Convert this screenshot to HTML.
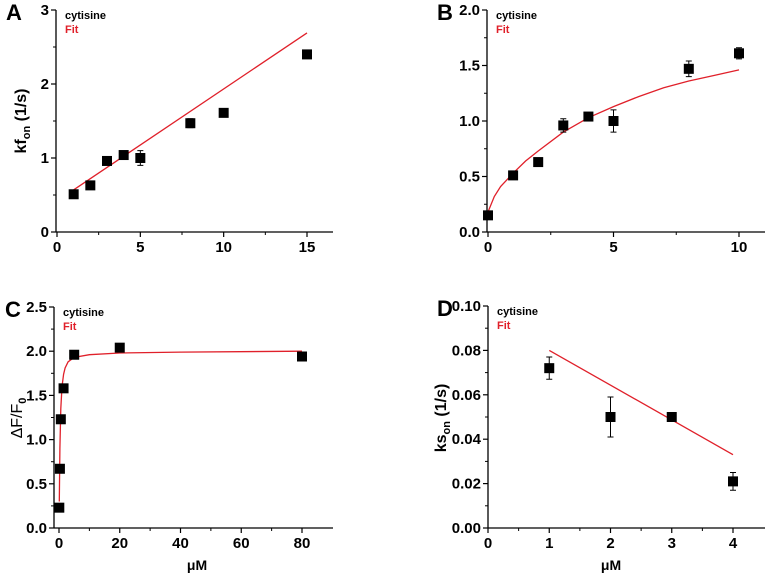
<!DOCTYPE html>
<html><head><meta charset="utf-8"><style>
body{margin:0;background:#fff;}
svg{display:block;font-family:"Liberation Sans",Arial,sans-serif;}
.t{font-weight:bold;font-size:15px;}
</style></head><body>
<svg id="fig" width="765" height="577">
<text x="0" y="0" transform="translate(26,121) rotate(-90)" text-anchor="middle" font-weight="bold" font-size="16">kf<tspan font-size="11" dy="4">on</tspan><tspan dy="-4"> (1/s)</tspan></text>
<text x="0" y="0" transform="translate(22,418) rotate(-90)" text-anchor="middle" font-size="16">ΔF/F<tspan font-size="11" dy="4" font-weight="bold">0</tspan></text>
<text x="0" y="0" transform="translate(446,418) rotate(-90)" text-anchor="middle" font-weight="bold" font-size="16">ks<tspan font-size="11" dy="4">on</tspan><tspan dy="-4"> (1/s)</tspan></text>
<text x="197" y="570" text-anchor="middle" font-weight="bold" font-size="14">μM</text>
<text x="611" y="570" text-anchor="middle" font-weight="bold" font-size="14">μM</text>
</svg>
<script>
// Panel A data
const aX=[1,2,3,4,5,8,10,15];
const aY=[0.51,0.63,0.96,1.04,1.0,1.47,1.61,2.40];
const aErr=[0.02,0.02,0.04,0.03,0.1,0.06,0.03,0.03];
const aFitX=[1,15];
const aFitY=[0.57,2.69];
// Panel B data
const bX=[0,1,2,3,4,5,8,10];
const bY=[0.15,0.51,0.63,0.96,1.04,1.0,1.47,1.61];
const bErr=[0.02,0.02,0.02,0.06,0.03,0.1,0.07,0.05];
const bFitX=[0,0.25,0.5,1,1.5,2,3,4,5,6,7,8,9,10];
const bFitY=[0.18,0.32,0.41,0.53,0.64,0.73,0.90,1.03,1.13,1.22,1.30,1.36,1.41,1.46];
// Panel C data
const cX=[0.1,0.3,0.6,1.5,5,20,80];
const cY=[0.23,0.67,1.23,1.58,1.96,2.04,1.94];
const cErr=[0,0,0,0,0,0,0];
const cFitX=[0.1,0.3,0.6,1,1.5,2,3,5,10,20,40,80];
const cFitY=[0.3,0.9,1.35,1.6,1.74,1.81,1.88,1.93,1.96,1.98,1.99,2.0];
// Panel D data
const dX=[1,2,3,4];
const dY=[0.072,0.050,0.050,0.021];
const dErr=[0.005,0.009,0.001,0.004];
const dFitX=[1,4];
const dFitY=[0.080,0.033];
// Tick labels
const aXTicks=[0,5,10,15], aYTicks=[0,1,2,3];
const bXTicks=[0,5,10], bYTicks=["0.0","0.5","1.0","1.5","2.0"];
const cXTicks=[0,20,40,60,80], cYTicks=["0.0","0.5","1.0","1.5","2.0","2.5"];
const dXTicks=[0,1,2,3,4], dYTicks=["0.00","0.02","0.04","0.06","0.08","0.10"];

const NS="http://www.w3.org/2000/svg";
const svg=document.getElementById('fig');
function mk(tag,attrs,parent,txt){const e=document.createElementNS(NS,tag);for(const k in attrs)e.setAttribute(k,attrs[k]);if(txt!==undefined)e.textContent=txt;parent.appendChild(e);return e;}

function panel(o){
  const g=mk('g',{},svg);
  
  
  const sx=v=>o.x0+(v-o.xmin)/(o.xmax-o.xmin)*(o.x1-o.x0);
  const sy=v=>o.y0-(v-o.ymin)/(o.ymax-o.ymin)*(o.y0-o.y1);
  const ya=mk('line',{x1:o.ax,y1:o.y0,x2:o.ax,y2:o.y1,stroke:'#000','stroke-width':1.3},g);
  
  
  const xa=mk('line',{x1:o.ax,y1:o.y0,x2:o.xend,y2:o.y0,stroke:'#000','stroke-width':1.3},g);
  
  
  o.xt.forEach((t,i)=>{const v=+t;const px=sx(v);
    mk('line',{x1:px,y1:o.y0,x2:px,y2:o.y0+5,stroke:'#000','stroke-width':1.2},g);
    const tl=mk('text',{x:px,y:o.y0+20,'text-anchor':'middle',class:'t'},g,t);
    
    
    if(i<o.xt.length-1){const m=sx((v+ +o.xt[i+1])/2);mk('line',{x1:m,y1:o.y0,x2:m,y2:o.y0+3,stroke:'#000'},g);}
  });
  o.yt.forEach((t,i)=>{const v=+t;const py=sy(v);
    mk('line',{x1:o.ax,y1:py,x2:o.ax-5,y2:py,stroke:'#000','stroke-width':1.2},g);
    const tl=mk('text',{x:o.ax-7,y:py+5,'text-anchor':'end',class:'t'},g,t);
    
    
    if(i<o.yt.length-1){const m=sy((v+ +o.yt[i+1])/2);mk('line',{x1:o.ax,y1:m,x2:o.ax-3,y2:m,stroke:'#000'},g);}
  });
  let d='';o.fx.forEach((v,i)=>{d+=(i?'L':'M')+sx(v).toFixed(1)+','+sy(o.fy[i]).toFixed(1);});
  const fp=mk('path',{d:d,fill:'none',stroke:'#e0202a','stroke-width':1.3},g);
  
  
  o.px.forEach((v,i)=>{const cx=sx(v),cy=sy(o.py[i]);
    if(o.pe[i]>0){const ty=sy(o.py[i]+o.pe[i]),by=sy(o.py[i]-o.pe[i]);
      mk('path',{d:`M${cx},${ty}V${by}M${cx-3},${ty}H${cx+3}M${cx-3},${by}H${cx+3}`,stroke:'#000',fill:'none'},g);}
    const r=mk('rect',{x:cx-5,y:cy-5,width:10,height:10,fill:'#000'},g);
    
    
  });
  const l1=mk('text',{x:o.ax+9,y:o.y1+9,'font-size':'11','font-weight':'bold'},g,'cytisine');
  
  
  const l2=mk('text',{x:o.ax+9,y:o.y1+23,'font-size':'11','font-weight':'bold',fill:'#e0202a'},g,'Fit');
  
  
  const pl=mk('text',{x:o.lx,y:o.y1+10,'font-size':'22','font-weight':'bold'},g,o.id);
  
  
  return g;
}
panel({id:'A',ax:56,x0:57,x1:307,xmin:0,xmax:15,xend:333,y0:232,y1:10,ymin:0,ymax:3,xt:aXTicks,yt:aYTicks,px:aX,py:aY,pe:aErr,fx:aFitX,fy:aFitY,lx:6});
panel({id:'B',ax:487,x0:488,x1:739,xmin:0,xmax:10,xend:765,y0:232,y1:10,ymin:0,ymax:2,xt:bXTicks,yt:bYTicks,px:bX,py:bY,pe:bErr,fx:bFitX,fy:bFitY,lx:437});
panel({id:'C',ax:54,x0:59,x1:302,xmin:0,xmax:80,xend:333,y0:528,y1:307,ymin:0,ymax:2.5,xt:cXTicks,yt:cYTicks,px:cX,py:cY,pe:cErr,fx:cFitX,fy:cFitY,lx:5});
panel({id:'D',ax:488,x0:488,x1:733,xmin:0,xmax:4,xend:765,y0:528,y1:306,ymin:0,ymax:0.1,xt:dXTicks,yt:dYTicks,px:dX,py:dY,pe:dErr,fx:dFitX,fy:dFitY,lx:437});
</script>
</body></html>
